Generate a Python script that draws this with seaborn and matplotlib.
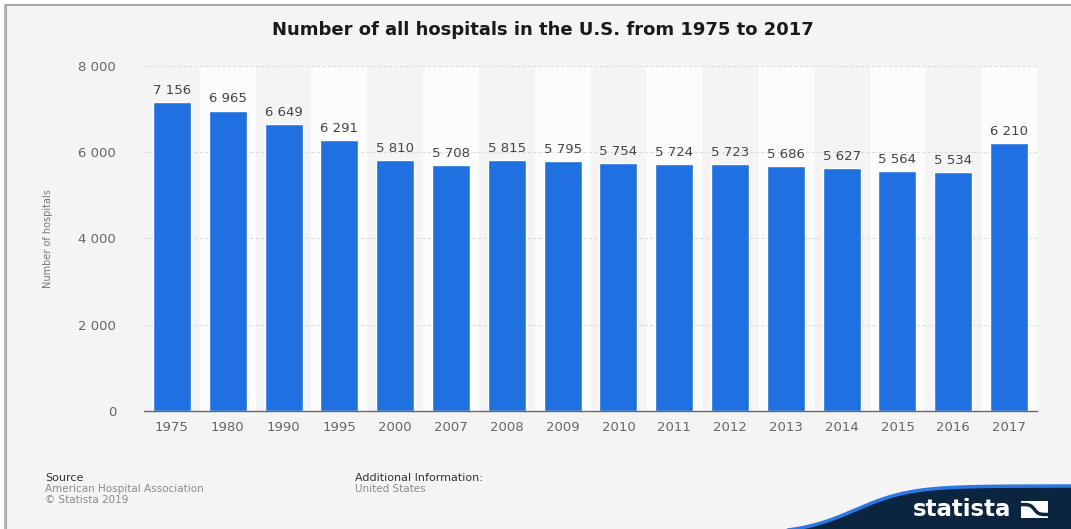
import numpy as np
import pandas as pd
import matplotlib
matplotlib.use('Agg')
import matplotlib.pyplot as plt
import seaborn as sns
from matplotlib.patches import Rectangle, Polygon

years = ['1975', '1980', '1990', '1995', '2000', '2007', '2008', '2009',
         '2010', '2011', '2012', '2013', '2014', '2015', '2016', '2017']
hospitals = [7156, 6965, 6649, 6291, 5810, 5708, 5815, 5795,
             5754, 5724, 5723, 5686, 5627, 5564, 5534, 6210]
y_ticks = [0, 2000, 4000, 6000, 8000]

bar_color = '#1f70e0'
bg = '#f4f4f4'

sns.set_theme(style='white')
plt.rcParams['font.family'] = ['DejaVu Sans']

df = pd.DataFrame({'Year': years, 'Hospitals': hospitals})

fig = plt.figure(figsize=(10.71, 5.29), dpi=100, facecolor='white')

# background / frame / logo layer in pixel coordinates
bgax = fig.add_axes([0, 0, 1, 1], zorder=0)
bgax.set_xlim(0, 1071)
bgax.set_ylim(529, 0)
bgax.axis('off')
bgax.add_patch(Rectangle((6, 5), 1070, 530, facecolor=bg, edgecolor='#a8a8a8', lw=1.5))
bgax.plot([4.5, 4.5], [5, 529], color='#b8b8b8', lw=1.5)

# statista wave
xs = np.linspace(780, 1071, 200)
ys = 486 + 48 / (1 + np.exp((xs - 855) / 28))
ys = np.minimum(ys, 531)
poly = np.vstack([np.column_stack([xs, ys]), [[1071, 531], [780, 531]]])
bgax.add_patch(Polygon(poly, closed=True, facecolor='#0b2540', edgecolor='none'))
bgax.plot(xs, ys, color='#2a78e4', lw=2.5)
bgax.text(962, 509, 'statista', color='white', fontsize=16.5, fontweight='bold',
          ha='center', va='center')
bgax.add_patch(Rectangle((1021, 501), 27, 17, facecolor='white', edgecolor='none'))
wx = np.linspace(1021, 1048, 50)
wy = 509.5 + 5 * np.tanh((wx - 1034.5) / 4)
bgax.plot(wx, wy, color='#0b2540', lw=2.5)

# footer
bgax.text(45, 478, 'Source', fontsize=8, color='#333333', va='center')
bgax.text(45, 489, 'American Hospital Association', fontsize=7.5, color='#8a8a8a', va='center')
bgax.text(45, 500, '\u00a9 Statista 2019', fontsize=7.5, color='#8a8a8a', va='center')
bgax.text(355, 478, 'Additional Information:', fontsize=8, color='#333333', va='center')
bgax.text(355, 489, 'United States', fontsize=7.5, color='#8a8a8a', va='center')

bgax.text(543, 30, 'Number of all hospitals in the U.S. from 1975 to 2017',
          fontsize=13, fontweight='bold', color='#1a1a1a', ha='center', va='center')

# main chart
ax = fig.add_axes([144 / 1071, 1 - 411 / 529, (1037 - 144) / 1071, (411 - 66) / 529], zorder=1)
ax.set_facecolor(bg)
for i in range(1, len(years), 2):
    ax.axvspan(i - 0.5, i + 0.5, color='#fcfcfc', zorder=0, lw=0)
for t in y_ticks[1:]:
    ax.axhline(t, color='#dcdcdc', lw=0.8, ls=(0, (3, 2)), zorder=0.5)

sns.barplot(data=df, x='Year', y='Hospitals', color=bar_color, width=0.68,
            saturation=1, ax=ax, zorder=2)

for i, v in enumerate(hospitals):
    ax.text(i, v + 120, f'{v:,}'.replace(',', ' '), ha='center', va='bottom',
            fontsize=9.5, color='#444444')

ax.set_xlim(-0.5, len(years) - 0.5)
ax.set_ylim(0, 8000)
ax.set_yticks(y_ticks)
ax.set_yticklabels([f'{t:,}'.replace(',', ' ') for t in y_ticks])
ax.tick_params(axis='both', length=0, labelsize=9.5, labelcolor='#666666')
ax.tick_params(axis='y', pad=20)
ax.tick_params(axis='x', pad=7)
ax.set_xlabel('')
ax.set_ylabel('Number of hospitals', fontsize=7, color='#777777', labelpad=18)
for s in ['top', 'right', 'left']:
    ax.spines[s].set_visible(False)
ax.spines['bottom'].set_color('#666666')
ax.spines['bottom'].set_linewidth(1)

fig.savefig('out.png', dpi=100, facecolor='white')
